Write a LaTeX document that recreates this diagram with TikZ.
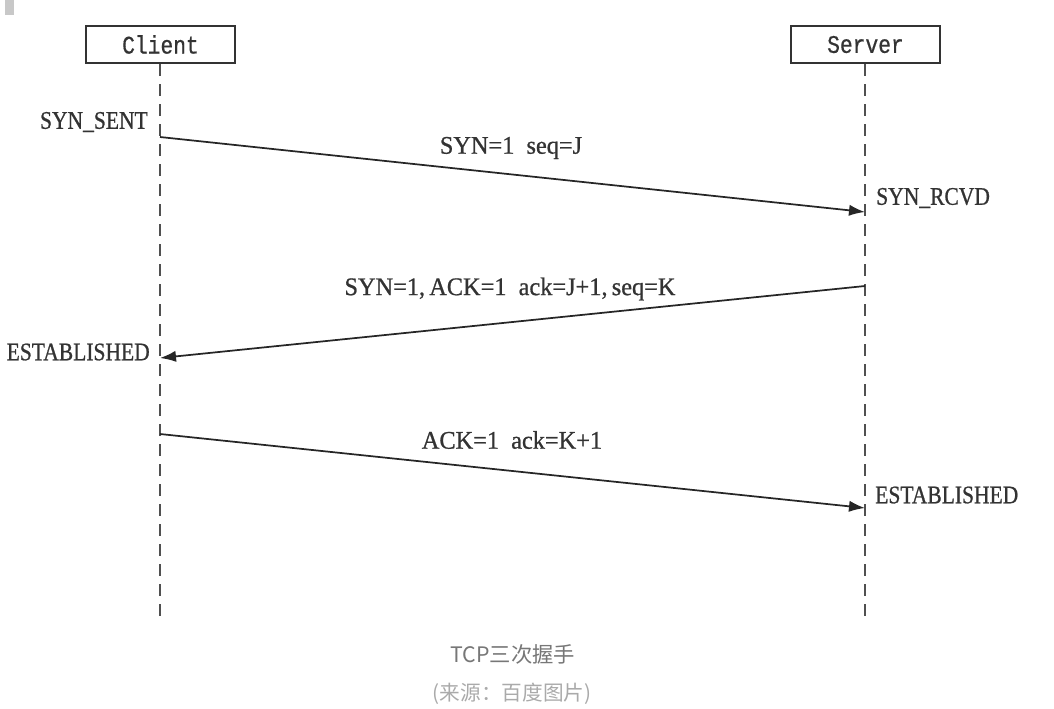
\documentclass[tikz,border=0pt]{standalone}
\usepackage{fontspec}
\setmainfont{Liberation Serif}
\newfontfamily\monof[FakeStretch=0.84,FakeBold=0.6]{Liberation Mono}
\newfontfamily\statef[FakeStretch=0.85,FakeBold=0.8]{Liberation Serif}
\newfontfamily\msgf[FakeStretch=0.96,FakeBold=0.8]{Liberation Serif}
\newfontfamily\cjkf{Noto Sans CJK SC}
\usetikzlibrary{arrows.meta}
\definecolor{lifegray}{HTML}{505050}
\definecolor{capgray}{HTML}{777777}
\definecolor{srcgray}{HTML}{AAAAAA}
\definecolor{markgray}{HTML}{C8C8C8}
\definecolor{txt}{HTML}{333333}
\tikzset{
  actor/.style={draw=black!80, line width=1.6pt, minimum width=111.75pt, minimum height=27.75pt, inner sep=0pt, text=txt, font=\monof\fontsize{19}{21}\selectfont},
  lifeline/.style={draw=lifegray, line width=1.6pt, dash pattern=on 9pt off 6pt},
  msg/.style={draw=black!85, line width=1.3pt, -{Latex[length=12pt,width=8.5pt]}},
  state/.style={font=\statef\fontsize{19}{21}\selectfont, text=txt, inner sep=0pt},
  msglabel/.style={font=\msgf\fontsize{19}{21}\selectfont, text=txt, inner sep=0pt},
}
\begin{document}
\begin{tikzpicture}[x=0.75pt,y=-0.75pt]
\useasboundingbox (0,0) rectangle (1054,708);
\fill[markgray] (5,0) rectangle (14,15);
\node[actor] (client) at (160.5,44.5) {Client};
\node[actor] (server) at (865.5,44.5) {Server};
\coordinate (cend) at (160,620);
\coordinate (send) at (865,620);
\draw[lifeline] (client.south -| cend) -- (cend);
\draw[lifeline] (server.south -| send) -- (send);
\coordinate (c1) at (160,137);
\coordinate (s1) at (865,212);
\coordinate (s2) at (865,286);
\coordinate (c2) at (160,358);
\coordinate (c3) at (160,434);
\coordinate (s3) at (865,508);
\draw[msg] (c1) -- (s1);
\draw[msg] (s2) -- (c2);
\draw[msg] (c3) -- (s3);
\node[state, anchor=east] (synsent) at (148,122) {SYN\_SENT};
\node[state, anchor=west] (synrcvd) at (876,198) {SYN\_RCVD};
\node[state, anchor=east] (estc) at (150,352) {ESTABLISHED};
\node[state, anchor=west] (ests) at (875,495) {ESTABLISHED};
\node[msglabel] (m1) at (511,148) {SYN=1\ \ seq=J};
\node[msglabel] (m2) at (510,289) {SYN=1,\,ACK=1\ \ ack=J+1,\,seq=K};
\node[msglabel] (m3) at (512,440) {ACK=1\ \ ack=K+1};
\node[font=\cjkf\fontsize{16}{18}\selectfont, text=capgray] (cap) at (513,654) {TCP三次握手};
\node[font=\cjkf\fontsize{15.5}{18}\selectfont, text=srcgray] (src) at (512,694) {(来源：百度图片)};
\end{tikzpicture}
\end{document}
